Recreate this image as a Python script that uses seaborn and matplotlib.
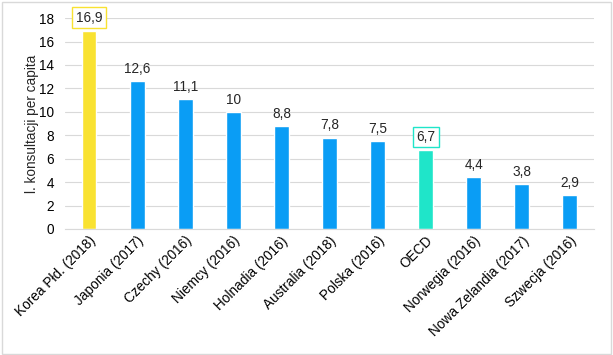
import matplotlib
matplotlib.use('Agg')
import matplotlib.pyplot as plt
import seaborn as sns
import pandas as pd
from matplotlib.patches import Rectangle

countries = ['Korea Płd. (2018)', 'Japonia (2017)', 'Czechy (2016)', 'Niemcy (2016)',
             'Holnadia (2016)', 'Australia (2018)', 'Polska (2016)', 'OECD',
             'Norwegia (2016)', 'Nowa Zelandia (2017)', 'Szwecja (2016)']
values = [16.9, 12.6, 11.1, 10, 8.8, 7.8, 7.5, 6.7, 4.4, 3.8, 2.9]
labels = ['16,9', '12,6', '11,1', '10', '8,8', '7,8', '7,5', '6,7', '4,4', '3,8', '2,9']

blue = '#0A9DF5'
yellow = '#F9E231'
teal = '#1FE5C9'
colors = [yellow] + [blue] * 6 + [teal] + [blue] * 3

df = pd.DataFrame({'kraj': countries, 'wartosc': values})

sns.set_style('white')
plt.rcParams['font.family'] = ['Liberation Sans', 'DejaVu Sans']

fig = plt.figure(figsize=(6.13, 3.55), dpi=100)
ax = fig.add_axes([0.106, 0.355, 0.863, 0.594])

sns.barplot(data=df, x='kraj', y='wartosc', hue='kraj', palette=colors,
            legend=False, width=0.31, saturation=1, ax=ax)

fs = 9.8
ax.set_ylim(0, 18)
ax.set_yticks(range(0, 19, 2))
ax.yaxis.grid(True, color='#D9D9D9', linewidth=0.8)
ax.set_axisbelow(True)
for s in ['top', 'right', 'left']:
    ax.spines[s].set_visible(False)
ax.spines['bottom'].set_color('#D9D9D9')
ax.tick_params(axis='both', length=0, labelsize=fs, colors='#000000')
ax.tick_params(axis='y', pad=8)
ax.set_xlabel('')
ax.set_ylabel('l. konsultacji per capita', fontsize=fs, labelpad=0)
plt.setp(ax.get_xticklabels(), rotation=45, ha='right', rotation_mode='anchor')

edge = {0: yellow, 7: teal}
for i, (v, lab) in enumerate(zip(values, labels)):
    if i in edge:
        ax.text(i, v + 0.55, lab, ha='center', va='bottom', fontsize=fs,
                bbox=dict(boxstyle='square,pad=0.25', fc='white', ec=edge[i], lw=1))
    else:
        ax.text(i, v + 0.45, lab, ha='center', va='bottom', fontsize=fs)

fig.patches.append(Rectangle((0.003, 0.004), 0.993, 0.99, transform=fig.transFigure,
                             fill=False, ec='#D9D9D9', lw=1))

fig.savefig('out.png', dpi=100)
